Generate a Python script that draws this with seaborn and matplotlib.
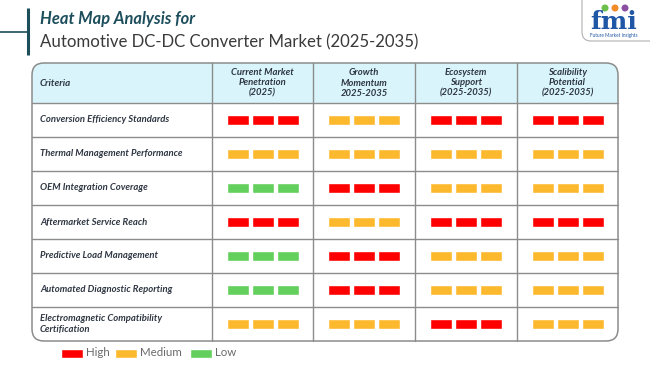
import numpy as np
import pandas as pd
import matplotlib
matplotlib.use("Agg")
import matplotlib.pyplot as plt
from matplotlib.patches import FancyBboxPatch, Rectangle
import seaborn as sns

# ---- data ----
criteria = [
    "Conversion Efficiency Standards",
    "Thermal Management Performance",
    "OEM Integration Coverage",
    "Aftermarket Service Reach",
    "Predictive Load Management",
    "Automated Diagnostic Reporting",
    "Electromagnetic Compatibility\nCertification",
]
columns = [
    "Current Market\nPenetration\n(2025)",
    "Growth\nMomentum\n2025-2035",
    "Ecosystem\nSupport\n(2025-2035)",
    "Scalibility\nPotential\n(2025-2035)",
]
current_market = ["High", "Medium", "Low", "High", "Low", "Low", "Medium"]
growth_momentum = ["Medium", "Medium", "High", "Medium", "High", "High", "Medium"]
ecosystem_support = ["High", "Medium", "Medium", "High", "Medium", "Medium", "High"]
scalability = ["High", "Medium", "Medium", "High", "Medium", "Medium", "Medium"]
levels = ["High", "Medium", "Low"]

df = pd.DataFrame(
    {columns[0]: current_market, columns[1]: growth_momentum,
     columns[2]: ecosystem_support, columns[3]: scalability},
    index=criteria,
)

level_colors = dict(zip(levels, sns.color_palette(["#FF0000", "#FDB92E", "#63CF5C"])))

# ---- style ----
sns.set_style("white")
plt.rcParams["font.family"] = ["Lato", "DejaVu Sans"]

fig = plt.figure(figsize=(6.5, 3.65), dpi=100)
ax = fig.add_axes([0, 0, 1, 1])
ax.set_xlim(0, 650)
ax.set_ylim(365, 0)
ax.axis("off")

# ---- title ----
title_col = "#1D4E5C"
ax.plot([28, 28], [8, 55], color=title_col, lw=2.2, solid_capstyle="butt")
ax.plot([0, 28], [32, 32], color=title_col, lw=1.2)
ax.text(40, 19, "Heat Map Analysis for", fontsize=11.9, fontweight="bold",
        fontstyle="italic", color=title_col, va="center", ha="left")
ax.text(40, 42, "Automotive DC-DC Converter Market (2025-2035)", fontsize=12.1,
        color="#3A3A3A", va="center", ha="left")

# ---- logo ----
logo = FancyBboxPatch((582, -10), 80, 51, boxstyle="round,pad=0,rounding_size=9",
                      fc="white", ec="#B0B0B0", lw=0.8)
ax.add_patch(logo)
ax.text(614, 22, "fmi", fontsize=18, fontweight="bold", color="#1F56A6",
        ha="center", va="center", family=["DejaVu Serif"])
for dx, c in zip([-9, 1, 11], ["#6CC04A", "#F28C28", "#8A4FA0"]):
    ax.add_patch(plt.Circle((614 + dx, 8), 2.8, color=c))
ax.text(614, 35, "Future Market Insights", fontsize=3.4, color="#1F56A6",
        ha="center", va="center")

# ---- table geometry ----
col_edges = [32, 212, 313, 415, 517, 618]
head_top, head_bot = 63, 103
row_h = 34
table_bot = head_bot + row_h * len(criteria)
grid_col = "#8C8C8C"

border = FancyBboxPatch((col_edges[0], head_top), col_edges[-1] - col_edges[0],
                        table_bot - head_top,
                        boxstyle="round,pad=0,rounding_size=12",
                        fc="none", ec=grid_col, lw=1.1, zorder=4)
ax.add_patch(border)

header_bg = Rectangle((col_edges[0], head_top), col_edges[-1] - col_edges[0],
                      head_bot - head_top, fc="#D9F5FB", ec="none", zorder=1)
ax.add_patch(header_bg)
header_bg.set_clip_path(border)

for x in col_edges[1:-1]:
    ax.plot([x, x], [head_top, table_bot], color=grid_col, lw=1.0, zorder=3)
for i in range(len(criteria)):
    y = head_bot + i * row_h
    ax.plot([col_edges[0], col_edges[-1]], [y, y], color=grid_col, lw=1.0, zorder=3)

text_col = "#2E3642"
ax.text(40, (head_top + head_bot) / 2, "Criteria", fontsize=7, fontweight="bold",
        fontstyle="italic", color=text_col, va="center", ha="left")
for j, name in enumerate(df.columns):
    cx = (col_edges[j + 1] + col_edges[j + 2]) / 2
    ax.text(cx, (head_top + head_bot) / 2, name, fontsize=6.8, fontweight="bold",
            fontstyle="italic", color=text_col, va="center", ha="center",
            linespacing=1.15)

# ---- cells ----
bar_w, bar_h, gap = 22, 9.5, 3
for i, crit in enumerate(df.index):
    cy = head_bot + i * row_h + row_h / 2
    ax.text(40, cy, crit, fontsize=6.8, fontweight="bold", fontstyle="italic",
            color=text_col, va="center", ha="left", linespacing=1.4)
    for j, col in enumerate(df.columns):
        cx = (col_edges[j + 1] + col_edges[j + 2]) / 2
        xs = cx + np.array([-1, 0, 1]) * (bar_w + gap)
        ax.bar(xs, bar_h, width=bar_w, bottom=cy - bar_h / 2,
               color=level_colors[df.loc[crit, col]], zorder=2)

# ---- legend ----
lx = [61, 115, 190]
for x, lev in zip(lx, levels):
    ax.bar(x + 11, 9, width=22, bottom=348.5, color=level_colors[lev])
    ax.text(x + 25, 353, lev, fontsize=8.3, color="#6A6A6A", va="center", ha="left")

fig.savefig("out.png", dpi=100)
